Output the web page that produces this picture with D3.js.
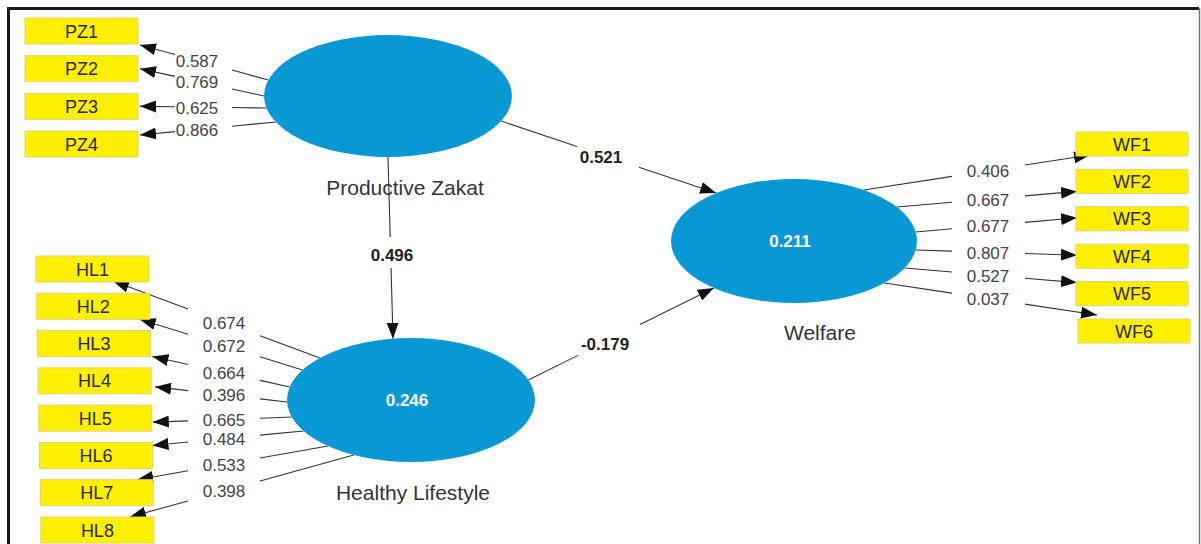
<!DOCTYPE html>
<html><head><meta charset="utf-8">
<script src="https://cdn.jsdelivr.net/npm/d3@7"></script>
<style>body{margin:0;background:#fff}svg{display:block}</style>
</head><body>
<svg id="c" width="1201" height="544"></svg>
<script>
// ---------------- DATA ----------------
const constructs = ["Productive Zakat", "Healthy Lifestyle", "Welfare"];
const rSquared = [null, 0.246, 0.211];

const pzItems = ["PZ1", "PZ2", "PZ3", "PZ4"];
const pzLoadings = [0.587, 0.769, 0.625, 0.866];

const hlItems = ["HL1", "HL2", "HL3", "HL4", "HL5", "HL6", "HL7", "HL8"];
const hlLoadings = [0.674, 0.672, 0.664, 0.396, 0.665, 0.484, 0.533, 0.398];

const wfItems = ["WF1", "WF2", "WF3", "WF4", "WF5", "WF6"];
const wfLoadings = [0.406, 0.667, 0.677, 0.807, 0.527, 0.037];

const pathFrom = ["Productive Zakat", "Productive Zakat", "Healthy Lifestyle"];
const pathTo = ["Healthy Lifestyle", "Welfare", "Welfare"];
const pathCoefs = [0.496, 0.521, -0.179];

// ---------------- LAYOUT ----------------
const fmt = d3.formatLocale({decimal: ".", thousands: ",", grouping: [3], currency: ["", ""], minus: "-"}).format(".3f");
const FONT = "'Liberation Sans', Arial, Helvetica, sans-serif";
const svg = d3.select("#c");

const nodeLayout = {
  "Productive Zakat": {cx: 388, cy: 96, rx: 124, ry: 61, lx: 405, ly: 195},
  "Healthy Lifestyle": {cx: 411, cy: 400, rx: 124, ry: 62, lx: 413, ly: 500},
  "Welfare": {cx: 794, cy: 241, rx: 123, ry: 62, lx: 820, ly: 340}
};

// point on ellipse boundary
function onEllipse(n, side, off) {
  if (side === "left" || side === "right") {
    const s = Math.sqrt(Math.max(0, 1 - (off / n.ry) ** 2));
    return [n.cx + (side === "left" ? -1 : 1) * n.rx * s, n.cy + off];
  } else {
    const s = Math.sqrt(Math.max(0, 1 - (off / n.rx) ** 2));
    return [n.cx + off, n.cy + (side === "top" ? -1 : 1) * n.ry * s];
  }
}
function lerp(P, Q, t) { return [P[0] + (Q[0] - P[0]) * t, P[1] + (Q[1] - P[1]) * t]; }
function tAt(P, Q, axis, v) { return (v - P[axis]) / (Q[axis] - P[axis]); }

// defs: arrowhead
svg.append("defs").append("marker")
  .attr("id", "arr").attr("markerUnits", "userSpaceOnUse")
  .attr("markerWidth", 16).attr("markerHeight", 12)
  .attr("refX", 16).attr("refY", 6).attr("orient", "auto")
  .append("path").attr("d", "M0,0 L16,6 L0,12 Z").attr("fill", "#111");

// frame
svg.append("line").attr("x1", 8.5).attr("y1", 8.5).attr("x2", 1199).attr("y2", 8.5)
  .attr("stroke", "#1a1a1a").attr("stroke-width", 3);
svg.append("line").attr("x1", 8.5).attr("y1", 7).attr("x2", 8.5).attr("y2", 544)
  .attr("stroke", "#1a1a1a").attr("stroke-width", 3);
svg.append("line").attr("x1", 1199.5).attr("y1", 8).attr("x2", 1199.5).attr("y2", 544)
  .attr("stroke", "#777").attr("stroke-width", 1.5);

const gLines = svg.append("g");
const gNodes = svg.append("g");
const gText = svg.append("g");

function drawGapLine(P, Q, axis, g0, g1) {
  let ta = tAt(P, Q, axis, g0), tb = tAt(P, Q, axis, g1);
  if (ta > tb) [ta, tb] = [tb, ta];
  const A = lerp(P, Q, ta), B = lerp(P, Q, tb);
  gLines.append("line").attr("x1", P[0]).attr("y1", P[1]).attr("x2", A[0]).attr("y2", A[1])
    .attr("stroke", "#333").attr("stroke-width", 1.1);
  gLines.append("line").attr("x1", B[0]).attr("y1", B[1]).attr("x2", Q[0]).attr("y2", Q[1])
    .attr("stroke", "#333").attr("stroke-width", 1.1).attr("marker-end", "url(#arr)");
}

// indicator blocks
const blocks = [
  {items: pzItems, loads: pzLoadings, node: "Productive Zakat", side: "left",
   boxX: i => 25, boxW: 113, boxH: 26, range: [18, 131],
   anchorDy: [-16, 0, 12, 26],
   tip: [[115, 14], [115, 0], [115, 0], [115, -9]],
   labelX: 197, gap: [-22, 35]},
  {items: hlItems, loads: hlLoadings, node: "Healthy Lifestyle", side: "left",
   boxX: i => 36 + i * 0.7, boxW: 113, boxH: 26, range: [256, 517],
   anchorDy: [-42, -30, -13, 2, 17, 31, 46, 55],
   tip: [[77, 12], [103, 13], [115, 13], [117, 6], [114, 4], [113, -10], [97, -13], [89, -13]],
   labelX: 224, gap: [-36, 36]},
  {items: wfItems, loads: wfLoadings, node: "Welfare", side: "right",
   boxX: i => (i === 5 ? 1078 : 1076), boxW: 112, boxH: 24, range: [132, 319],
   anchorDy: [-51, -34, -9, 9, 27, 42],
   tip: [[14, 11], [1, 10], [1, -1], [1, -1], [1, -11], [19, -16]],
   labelX: 988, gap: [-36, 37]}
];

blocks.forEach(b => {
  const y = d3.scalePoint().domain(b.items).range(b.range);
  const n = nodeLayout[b.node];
  b.items.forEach((name, i) => {
    const bx = b.boxX(i), by = y(name), bcy = by + b.boxH / 2;
    gNodes.append("rect").attr("x", bx).attr("y", by).attr("width", b.boxW).attr("height", b.boxH)
      .attr("fill", "#FFEF00").attr("stroke", "#E3D36A").attr("stroke-width", 1);
    gText.append("text").attr("x", bx + b.boxW / 2).attr("y", bcy + 6.5)
      .attr("text-anchor", "middle").attr("font-family", FONT).attr("font-size", 18)
      .attr("fill", "#2a2a20").text(name);
    const P = onEllipse(n, b.side, b.anchorDy[i]);
    const Q = [bx + b.tip[i][0], bcy + b.tip[i][1]];
    drawGapLine(P, Q, 0, b.labelX + b.gap[0], b.labelX + b.gap[1]);
    const L = lerp(P, Q, tAt(P, Q, 0, b.labelX));
    gText.append("text").attr("x", b.labelX).attr("y", L[1] + 6.5)
      .attr("text-anchor", "middle").attr("font-family", FONT).attr("font-size", 17)
      .attr("fill", "#444").text(fmt(b.loads[i]));
  });
});

// structural paths
const pathLayout = [
  {fromSide: "bottom", fromOff: 0, toSide: "top", toOff: -18, axis: 1, lab: [392, 255], gap: [237, 268]},
  {fromSide: "right", fromOff: 25, toSide: "left", toOff: -48, axis: 0, lab: [601, 157], gap: [577, 639]},
  {fromSide: "right", fromOff: -20, toSide: "left", toOff: 47, axis: 0, lab: [605, 344], gap: [578, 640]}
];
pathCoefs.forEach((c, i) => {
  const L = pathLayout[i];
  const P = onEllipse(nodeLayout[pathFrom[i]], L.fromSide, L.fromOff);
  const Q = onEllipse(nodeLayout[pathTo[i]], L.toSide, L.toOff);
  drawGapLine(P, Q, L.axis, L.gap[0], L.gap[1]);
  gText.append("text").attr("x", L.lab[0]).attr("y", L.lab[1] + 6)
    .attr("text-anchor", "middle").attr("font-family", FONT).attr("font-size", 17)
    .attr("font-weight", "bold").attr("fill", "#222").text(fmt(c));
});

// constructs
constructs.forEach((name, i) => {
  const n = nodeLayout[name];
  gNodes.append("ellipse").attr("cx", n.cx).attr("cy", n.cy).attr("rx", n.rx).attr("ry", n.ry)
    .attr("fill", "#0899D4");
  if (rSquared[i] !== null) {
    gText.append("text").attr("x", n.cx - 4).attr("y", n.cy + 6)
      .attr("text-anchor", "middle").attr("font-family", FONT).attr("font-size", 17)
      .attr("font-weight", "bold").attr("fill", "#fff").text(fmt(rSquared[i]));
  }
  gText.append("text").attr("x", n.lx).attr("y", n.ly)
    .attr("text-anchor", "middle").attr("font-family", FONT).attr("font-size", 21)
    .attr("fill", "#333").text(name);
});
</script>
</body></html>
